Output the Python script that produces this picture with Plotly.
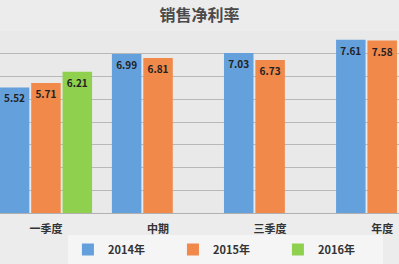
import plotly.graph_objects as go

categories = ["一季度", "中期", "三季度", "年度"]
s2014 = [5.52, 6.99, 7.03, 7.61]
s2015 = [5.71, 6.81, 6.73, 7.58]
s2016 = [6.21, None, None, None]
series_names = ["2014年", "2015年", "2016年"]
colors = ["#64a0dc", "#f0894a", "#8fd14f"]

font_main = "Noto Sans CJK SC"

fig = go.Figure()
for name, vals, col in zip(series_names, [s2014, s2015, s2016], colors):
    fig.add_trace(go.Bar(
        x=categories, y=vals, name=name,
        marker=dict(color=col, line=dict(width=0)),
        text=[("%.2f" % v) if v is not None else "" for v in vals],
        textposition="inside", insidetextanchor="end",
        textangle=0,
        textfont=dict(family=font_main, size=10, color="#222222", weight="bold"),
        constraintext="none",
    ))

fig.update_layout(
    width=399, height=264,
    margin=dict(l=0, r=0, t=31, b=51, autoexpand=False),
    paper_bgcolor="#ececec", plot_bgcolor="#e9e9e9",
    barmode="group", bargap=0.16, bargroupgap=0.06,
    title=dict(text="<b>销售净利率</b>", x=0.5, xanchor="center",
               yref="container", y=0.94, yanchor="middle",
               font=dict(family=font_main, size=16, color="#4a4a4a")),
    xaxis=dict(range=[-0.41, 3.15], showgrid=False, showline=True, linecolor="#b0b0b0",
               linewidth=1, ticks="", ticklabelstandoff=6,
               tickfont=dict(family=font_main, size=11, color="#333333", weight="bold"),
               fixedrange=True),
    yaxis=dict(range=[0, 8.0], dtick=1, showgrid=True, gridcolor="#b8b8b8", gridwidth=1,
               showticklabels=False, zeroline=False, fixedrange=True),
    legend=dict(orientation="h", x=0.565, xanchor="center",
                yref="container", y=0.0, yanchor="bottom",
                bgcolor="#f5f5f5", font=dict(family=font_main, size=11, color="#333333", weight="bold"),
                entrywidth=60, entrywidthmode="pixels", traceorder="normal",
                tracegroupgap=0, itemwidth=30),
    showlegend=True,
)

fig.write_html("out.html", config={"displayModeBar": False})
